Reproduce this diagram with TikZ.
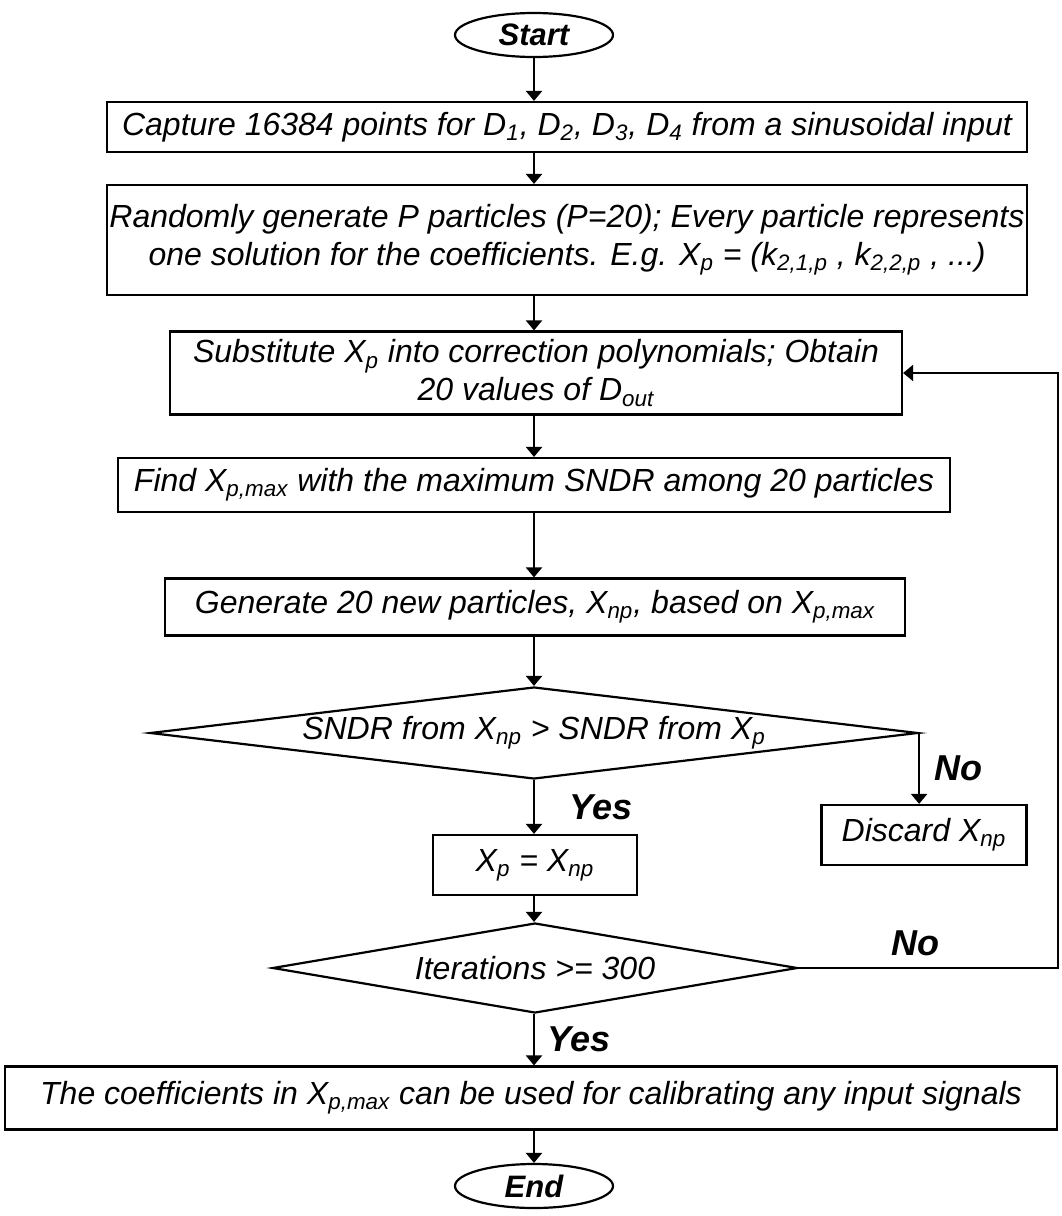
\documentclass[tikz,border=0pt]{standalone}
\usepackage{fontspec}
\setmainfont{Liberation Sans}
\usetikzlibrary{shapes.geometric,arrows.meta}
\tikzset{
  flowbox/.style={draw, line width=1.1pt, align=center, inner sep=0pt,
    font=\fontsize{16}{19}\selectfont\itshape},
  terminal/.style={draw, ellipse, line width=1.1pt, inner sep=0pt,
    minimum width=79pt, minimum height=22pt,
    font=\fontsize{15.5}{17}\selectfont\bfseries\itshape},
  decision/.style={draw, diamond, line width=1.1pt, inner sep=0pt,
    font=\fontsize{16}{18}\selectfont\itshape},
  arr/.style={line width=1.1pt, -{Triangle[length=5pt,width=8pt]}},
  answer/.style={font=\fontsize{18}{20}\selectfont\bfseries\itshape}
}
\begin{document}
\begin{tikzpicture}[x=0.5pt,y=-0.5pt]
\useasboundingbox (0,0) rectangle (1061,1216);
  % Draw terminals
  \node (start) [terminal] at (534,35) {Start};
  \node (end)   [terminal] at (534,1186) {End};
  % Draw boxes
  \node (capture) [flowbox, minimum width=460pt, minimum height=25pt] at (567,127)
        {Capture 16384 points for D\textsubscript{1}, D\textsubscript{2}, D\textsubscript{3}, D\textsubscript{4} from a sinusoidal input};
  \node (random) [flowbox, minimum width=460pt, minimum height=55pt] at (567,240)
        {Randomly generate P particles (P=20); Every particle represents\\
         one solution for the coefficients. E.g. X\textsubscript{p} = (k\textsubscript{2,1,p} , k\textsubscript{2,2,p} , ...)};
  \node (subst) [flowbox, minimum width=366pt, minimum height=41.5pt] at (536,373)
        {Substitute X\textsubscript{p} into correction polynomials; Obtain\\
         20 values of D\textsubscript{out}};
  \node (find) [flowbox, minimum width=416pt, minimum height=27pt] at (534,485)
        {Find X\textsubscript{p,max} with the maximum SNDR among 20 particles};
  \node (gen) [flowbox, minimum width=370pt, minimum height=28.5pt] at (535,607)
        {Generate 20 new particles, X\textsubscript{np}, based on X\textsubscript{p,max}};
  \node (update) [flowbox, minimum width=102pt, minimum height=30pt] at (535,865)
        {X\textsubscript{p} = X\textsubscript{np}};
  \node (discard) [flowbox, minimum width=102.5pt, minimum height=30pt] at (924,835)
        {Discard X\textsubscript{np}};
  \node (result) [flowbox, minimum width=526pt, minimum height=31.5pt] at (531,1098)
        {The coefficients in X\textsubscript{p,max} can be used for calibrating any input signals};
  % Draw decisions
  \node (better) [decision, minimum width=384pt, minimum height=46pt] at (534,733)
        {\makebox[0pt]{SNDR from X\textsubscript{np} > SNDR from X\textsubscript{p}}};
  \node (iter) [decision, minimum width=262.5pt, minimum height=45pt] at (535,968)
        {\makebox[0pt]{Iterations >= 300}};
  % Draw flow
  \draw[arr] (start.south) -- (start.south |- capture.north);
  \draw[arr] (start.south |- capture.south) -- (start.south |- random.north);
  \draw[arr] (start.south |- random.south) -- (start.south |- subst.north);
  \draw[arr] (start.south |- subst.south) -- (start.south |- find.north);
  \draw[arr] (start.south |- find.south) -- (start.south |- gen.north);
  \draw[arr] (start.south |- gen.south) -- (better.north);
  \draw[arr] (better.south) -- (better.south |- update.north)
        node [answer, midway, right=14pt] {Yes};
  \draw[arr] (better.east) -- (better.east |- discard.north)
        node [answer, midway, right=4pt] {No};
  \draw[arr] (better.south |- update.south) -- (better.south |- iter.north);
  \draw[arr] (better.south |- iter.south) -- (better.south |- result.north)
        node [answer, midway, right=3pt] {Yes};
  \draw[arr] (better.south |- result.south) -- (end.north);
  % Draw loop back
  \coordinate (loop) at (1058,968);
  \draw[arr] (iter.east) -- (loop) node [answer, pos=0.45, above=2pt] {No}
        -- (loop |- subst.east) -- (subst.east);
\end{tikzpicture}
\end{document}
